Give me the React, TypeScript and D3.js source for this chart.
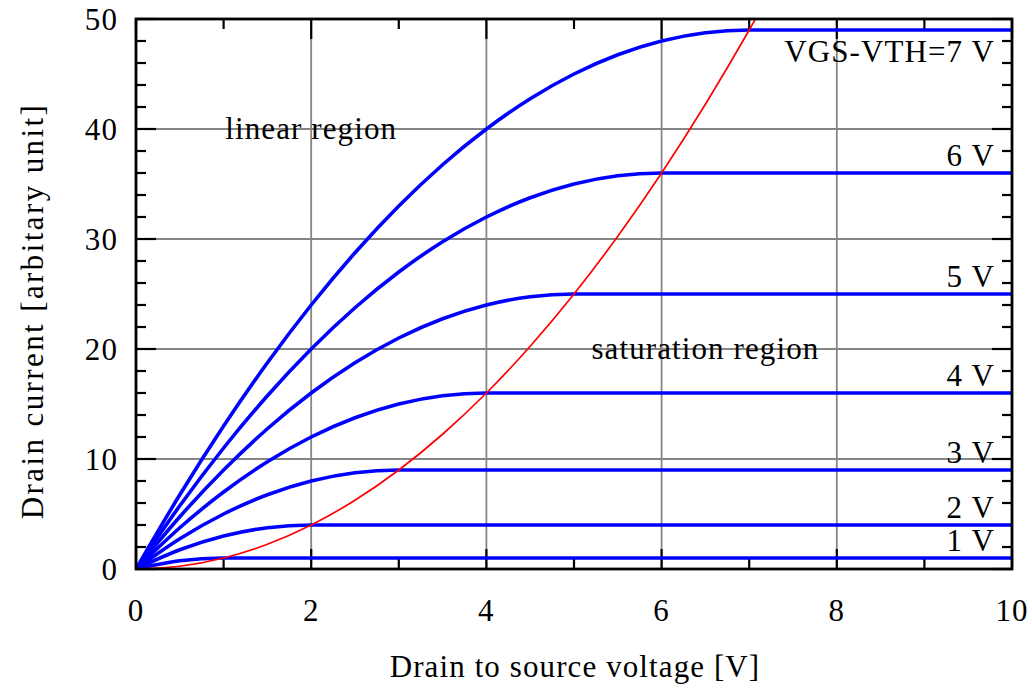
import React from "react";
import * as d3 from "d3";

// Drain-source voltage sample points [V]
const vdsSteps = [0, 0.5, 1, 1.5, 2, 2.5, 3, 3.5, 4, 4.5, 5, 5.5, 6, 6.5, 7, 10];

// Drain current for each overdrive voltage (VGS - VTH), read at vdsSteps
const current1V = [0, 0.75, 1, 1, 1, 1, 1, 1, 1, 1, 1, 1, 1, 1, 1, 1];
const current2V = [0, 1.75, 3, 3.75, 4, 4, 4, 4, 4, 4, 4, 4, 4, 4, 4, 4];
const current3V = [0, 2.75, 5, 6.75, 8, 8.75, 9, 9, 9, 9, 9, 9, 9, 9, 9, 9];
const current4V = [0, 3.75, 7, 9.75, 12, 13.75, 15, 15.75, 16, 16, 16, 16, 16, 16, 16, 16];
const current5V = [0, 4.75, 9, 12.75, 16, 18.75, 21, 22.75, 24, 24.75, 25, 25, 25, 25, 25, 25];
const current6V = [0, 5.75, 11, 15.75, 20, 23.75, 27, 29.75, 32, 33.75, 35, 35.75, 36, 36, 36, 36];
const current7V = [0, 6.75, 13, 18.75, 24, 28.75, 33, 36.75, 40, 42.75, 45, 46.75, 48, 48.75, 49, 49];

const seriesValues = [current1V, current2V, current3V, current4V, current5V, current6V, current7V];
const seriesLabels = ["1 V", "2 V", "3 V", "4 V", "5 V", "6 V", "VGS-VTH=7 V"];

// Saturation boundary (red curve)
const boundaryVds = [0, 0.5, 1, 1.5, 2, 2.5, 3, 3.5, 4, 4.5, 5, 5.5, 6, 6.5, 7, 7.5];
const boundaryCurrent = [0, 0.25, 1, 2.25, 4, 6.25, 9, 12.25, 16, 20.25, 25, 30.25, 36, 42.25, 49, 56.25];

// Axis ticks
const xMajorTicks = [0, 2, 4, 6, 8, 10];
const xMinorTicks = [1, 3, 5, 7, 9];
const yMajorTicks = [0, 10, 20, 30, 40, 50];
const yMinorTicks = [2, 4, 6, 8, 12, 14, 16, 18, 22, 24, 26, 28, 32, 34, 36, 38, 42, 44, 46, 48];

// Region annotations
const regionLabels = [
  { text: "linear region", x: 2, y: 40 },
  { text: "saturation region", x: 6.5, y: 20 },
];

const W = 1032;
const H = 691;
const left = 136;
const right = 1012;
const top = 19;
const bottom = 569;
const FONT = "'Liberation Serif', 'Times New Roman', serif";
const FS = 31;
const LS = 1.1;

export default function App() {
  const x = d3.scaleLinear().domain([0, 10]).range([left, right]);
  const y = d3.scaleLinear().domain([0, 50]).range([bottom, top]);

  const line = d3
    .line<[number, number]>()
    .x((d) => x(d[0]))
    .y((d) => y(d[1]))
    .curve(d3.curveMonotoneX);

  const gridColor = "#858585";

  return (
    <svg
      width={W}
      height={H}
      style={{ position: "absolute", left: 0, top: 0, background: "#fff" }}
    >
      <defs>
        <clipPath id="plotClip">
          <rect x={left} y={top} width={right - left} height={bottom - top} />
        </clipPath>
      </defs>
      <rect x={0} y={0} width={W} height={H} fill="#fff" />

      {/* grid */}
      <g stroke={gridColor} strokeWidth={1.8}>
        {xMajorTicks.slice(1, -1).map((t) => (
          <line key={"gx" + t} x1={x(t)} x2={x(t)} y1={top} y2={bottom} />
        ))}
        {yMajorTicks.slice(1, -1).map((t) => (
          <line key={"gy" + t} x1={left} x2={right} y1={y(t)} y2={y(t)} />
        ))}
      </g>

      {/* ticks */}
      <g stroke="#000" strokeWidth={2.2}>
        {xMajorTicks.map((t) => (
          <g key={"xt" + t}>
            <line x1={x(t)} x2={x(t)} y1={bottom} y2={bottom - 20} />
            <line x1={x(t)} x2={x(t)} y1={top} y2={top + 20} />
          </g>
        ))}
        {xMinorTicks.map((t) => (
          <g key={"xm" + t}>
            <line x1={x(t)} x2={x(t)} y1={bottom} y2={bottom - 10} />
            <line x1={x(t)} x2={x(t)} y1={top} y2={top + 10} />
          </g>
        ))}
        {yMajorTicks.map((t) => (
          <g key={"yt" + t}>
            <line x1={left} x2={left + 20} y1={y(t)} y2={y(t)} />
            <line x1={right} x2={right - 20} y1={y(t)} y2={y(t)} />
          </g>
        ))}
        {yMinorTicks.map((t) => (
          <g key={"ym" + t}>
            <line x1={left} x2={left + 10} y1={y(t)} y2={y(t)} />
            <line x1={right} x2={right - 10} y1={y(t)} y2={y(t)} />
          </g>
        ))}
      </g>

      {/* curves */}
      <g clipPath="url(#plotClip)" fill="none">
        {seriesValues.map((vals, i) => (
          <path
            key={"s" + i}
            d={line(vdsSteps.map((v, j) => [v, vals[j]] as [number, number])) || ""}
            stroke="#0000ff"
            strokeWidth={3.6}
          />
        ))}
        <path
          d={line(boundaryVds.map((v, j) => [v, boundaryCurrent[j]] as [number, number])) || ""}
          stroke="#ff0000"
          strokeWidth={1.7}
        />
      </g>

      {/* frame */}
      <rect
        x={left}
        y={top}
        width={right - left}
        height={bottom - top}
        fill="none"
        stroke="#000"
        strokeWidth={2.8}
      />

      {/* texts */}
      <g fontFamily={FONT} fontSize={FS} fill="#000" letterSpacing={LS}>
        {xMajorTicks.map((t) => (
          <text key={"xl" + t} x={x(t)} y={621} textAnchor="middle">
            {t}
          </text>
        ))}
        {yMajorTicks.map((t) => (
          <text key={"yl" + t} x={118} y={y(t) + 10.5} textAnchor="end">
            {t}
          </text>
        ))}
        <text x={(left + right) / 2 + 1} y={677} textAnchor="middle">
          Drain to source voltage [V]
        </text>
        <text
          transform={`translate(43, ${311}) rotate(-90)`}
          textAnchor="middle"
          letterSpacing={2.4}
        >
          Drain current [arbitary unit]
        </text>
        {regionLabels.map((r) => (
          <text key={r.text} x={x(r.x)} y={y(r.y) + 9.5} textAnchor="middle">
            {r.text}
          </text>
        ))}
        {seriesValues.map((vals, i) => {
          const level = vals[vals.length - 1];
          const isTop = i === seriesValues.length - 1;
          return (
            <text
              key={"lab" + i}
              x={995}
              y={isTop ? y(level) + 32 : y(level) - 7}
              textAnchor="end"
            >
              {seriesLabels[i]}
            </text>
          );
        })}
      </g>
    </svg>
  );
}
